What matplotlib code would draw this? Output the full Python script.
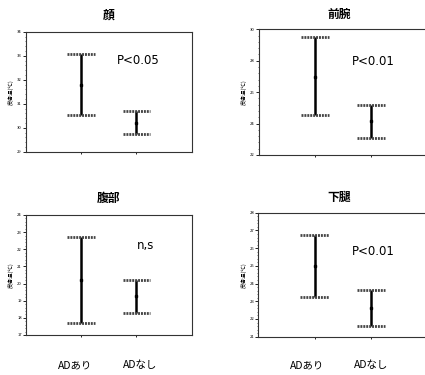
import matplotlib
matplotlib.use('Agg')
import matplotlib.pyplot as plt
from matplotlib.ticker import AutoMinorLocator

plt.rcParams['font.family'] = ['Noto Sans CJK JP', 'DejaVu Sans']

# データ
groups = ['ADあり', 'ADなし']
titles = ['顔', '前腕', '腹部', '下腿']
p_texts = ['P<0.05', 'P<0.01', 'n,s', 'P<0.01']

means = [[31.77, 30.20], [26.98, 24.18], [20.21, 19.27], [25.00, 22.60]]
uppers = [[33.06, 30.68], [29.53, 25.18], [22.74, 20.21], [26.74, 23.63]]
lowers = [[30.51, 29.74], [24.54, 23.06], [17.68, 18.26], [23.25, 21.60]]

y_ticks = [
    [29, 30, 31, 32, 33, 34],
    [22, 24, 26, 28, 30],
    [17, 18, 19, 20, 21, 22, 23, 24],
    [21, 22, 23, 24, 25, 26, 27, 28],
]

W, H = 425, 375
# 軸の位置（ピクセル: 左, 上, 右, 下）
boxes = [(26, 31.7, 191.7, 151.7), (258.5, 29.3, 427, 155),
         (26, 215, 191.7, 335), (258.3, 212.7, 427, 336.7)]
title_y = [15, 14, 198, 197]
p_pos = [(0.68, 0.76), (0.68, 0.74), (0.72, 0.75), (0.68, 0.69)]

fig = plt.figure(figsize=(W / 100, H / 100), dpi=100)

for i in range(4):
    l, t, r, b = boxes[i]
    ax = fig.add_axes([l / W, 1 - b / H, (r - l) / W, (b - t) / H])
    x = [1, 2]
    for j in range(2):
        ax.vlines(x[j], lowers[i][j], uppers[i][j], color='black', lw=1.8)
        ax.hlines([lowers[i][j], uppers[i][j]], x[j] - 0.25, x[j] + 0.25,
                  color='#444444', lw=2.0, linestyles=(0, (0.7, 0.35)))
        ax.plot(x[j], means[i][j], 's', color='black', ms=2)
    ax.set_xlim(0, 3)
    ax.set_ylim(y_ticks[i][0], y_ticks[i][-1])
    ax.set_yticks(y_ticks[i])
    ax.set_yticklabels([str(v) for v in y_ticks[i]], fontsize=3)
    ax.yaxis.set_minor_locator(AutoMinorLocator(5))
    ax.set_xticks([1, 2])
    ax.set_xticklabels([])
    ax.tick_params(axis='y', length=2, width=0.6, pad=1)
    ax.tick_params(axis='y', which='minor', length=1, width=0.4)
    ax.tick_params(axis='x', length=1.5, width=0.6)
    for s in ax.spines.values():
        s.set_linewidth(0.8)
        s.set_color('#333333')
    ax.set_ylabel('皮膚温(℃)', fontsize=4, labelpad=2)
    ax.text(p_pos[i][0], p_pos[i][1], p_texts[i], transform=ax.transAxes,
            fontsize=8.5, ha='center', va='center', family='DejaVu Sans')
    cx = (l + r) / 2 if r < W else (l + 420) / 2
    fig.text(cx / W, 1 - title_y[i] / H, titles[i], fontsize=8.5,
             ha='center', va='center', fontweight='bold')

# 下部のグループ名
for cx, lab in zip([75, 140, 307, 371], groups * 2):
    fig.text(cx / W, 1 - 365 / H, lab, fontsize=7.5, ha='center', va='center')

plt.savefig('out.png', dpi=100)
